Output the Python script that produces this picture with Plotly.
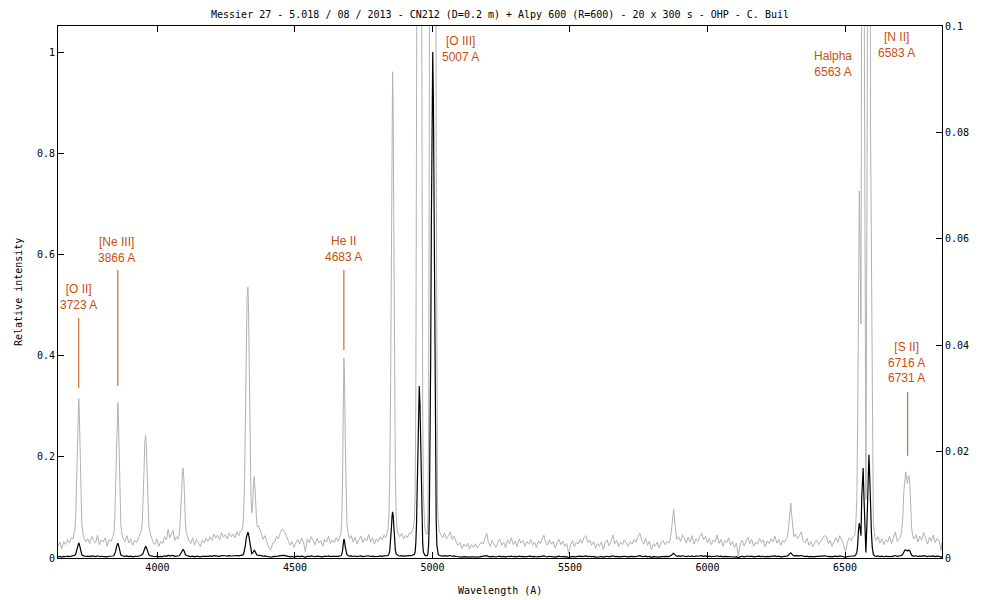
import plotly.graph_objects as go

# ---------------- data: wavelength (A) and relative intensity ----------------
wl_c1 = [3638, 3645, 3652, 3659, 3666, 3673, 3680, 3687, 3693, 3697]
fx_c1 = [0.0022, 0.0030, 0.0017, 0.0031, 0.0025, 0.0035, 0.0028, 0.0038, 0.0036, 0.0045]

wl_oii = [3700, 3703, 3706, 3709, 3712, 3714, 3716, 3719, 3722, 3725, 3729, 3733]
fx_oii = [0.0055, 0.0080, 0.0140, 0.0230, 0.0290, 0.0300, 0.0275, 0.0190, 0.0110, 0.0065, 0.0046, 0.0038]

wl_c2 = [3740, 3747, 3754, 3761, 3768, 3775, 3782, 3789, 3796, 3803, 3810, 3817, 3824, 3831, 3838]
fx_c2 = [0.0030, 0.0036, 0.0027, 0.0041, 0.0033, 0.0028, 0.0043, 0.0025, 0.0034, 0.0030, 0.0038, 0.0022, 0.0035, 0.0031, 0.0040]

wl_neiii = [3842, 3845, 3848, 3851, 3854, 3856, 3858, 3861, 3864, 3867, 3871, 3875]
fx_neiii = [0.0048, 0.0075, 0.0130, 0.0220, 0.0285, 0.0292, 0.0270, 0.0190, 0.0105, 0.0062, 0.0045, 0.0036]

wl_c3 = [3882, 3889, 3896, 3903, 3910, 3917, 3924, 3931, 3937]
fx_c3 = [0.0031, 0.0042, 0.0028, 0.0036, 0.0024, 0.0033, 0.0029, 0.0037, 0.0045]

wl_heps = [3942, 3945, 3948, 3951, 3954, 3957, 3960, 3963, 3966, 3969, 3973, 3977]
fx_heps = [0.0052, 0.0068, 0.0100, 0.0160, 0.0215, 0.0231, 0.0205, 0.0140, 0.0085, 0.0060, 0.0048, 0.0041]

wl_c4 = [3984, 3991, 3998, 4005, 4012, 4019, 4026, 4033, 4039, 4045, 4051, 4057, 4063, 4069, 4075]
fx_c4 = [0.0030, 0.0025, 0.0036, 0.0022, 0.0031, 0.0027, 0.0040, 0.0034, 0.0054, 0.0038, 0.0046, 0.0052, 0.0033, 0.0040, 0.0035]

wl_hdelta = [4079, 4082, 4085, 4088, 4091, 4093, 4096, 4099, 4102, 4105, 4109]
fx_hdelta = [0.0045, 0.0060, 0.0085, 0.0125, 0.0160, 0.0169, 0.0150, 0.0100, 0.0065, 0.0048, 0.0040]

wl_c5 = [4114, 4121, 4128, 4135, 4142, 4149, 4156, 4163, 4170, 4177,
         4184, 4191, 4198, 4205, 4212, 4219, 4226, 4233, 4240, 4247,
         4254, 4261, 4268, 4275, 4282, 4289, 4296, 4302, 4307]
fx_c5 = [0.0033, 0.0027, 0.0038, 0.0024, 0.0035, 0.0029, 0.0021, 0.0034, 0.0028, 0.0037,
         0.0031, 0.0040, 0.0033, 0.0045, 0.0037, 0.0043, 0.0034, 0.0048, 0.0039, 0.0044,
         0.0036, 0.0047, 0.0040, 0.0045, 0.0038, 0.0049, 0.0042, 0.0050, 0.0052]

wl_hgamma = [4311, 4314, 4317, 4320, 4323, 4326, 4329, 4331, 4334, 4337,
             4340, 4343, 4346, 4349, 4352, 4355, 4358, 4361, 4365, 4369, 4373]
fx_hgamma = [0.0062, 0.0090, 0.0150, 0.0260, 0.0400, 0.0490, 0.0509, 0.0480, 0.0360, 0.0220,
             0.0120, 0.0085, 0.0095, 0.0135, 0.0153, 0.0130, 0.0090, 0.0065, 0.0058, 0.0060, 0.0052]

wl_c6 = [4377, 4384, 4391, 4398, 4405, 4412, 4419, 4426, 4433, 4440,
         4447, 4454, 4461, 4468, 4475, 4482, 4489, 4496, 4503, 4510,
         4517, 4524, 4531, 4538, 4545, 4552, 4559, 4566, 4573, 4580,
         4587, 4594, 4601, 4608, 4615, 4622, 4629, 4636, 4643, 4650,
         4657, 4663]
fx_c6 = [0.0048, 0.0035, 0.0042, 0.0030, 0.0020, 0.0015, 0.0028, 0.0029, 0.0041, 0.0036,
         0.0048, 0.0055, 0.0050, 0.0043, 0.0033, 0.0024, 0.0031, 0.0020, 0.0028, 0.0035,
         0.0026, 0.0038, 0.0030, 0.0012, 0.0036, 0.0029, 0.0040, 0.0031, 0.0025, 0.0037,
         0.0028, 0.0033, 0.0022, 0.0035, 0.0030, 0.0041, 0.0027, 0.0034, 0.0029, 0.0038,
         0.0031, 0.0040]

wl_heii = [4667, 4670, 4673, 4676, 4678, 4680, 4683, 4686, 4689, 4693]
fx_heii = [0.0045, 0.0070, 0.0140, 0.0290, 0.0376, 0.0350, 0.0220, 0.0110, 0.0065, 0.0048]

wl_c7 = [4698, 4705, 4712, 4719, 4726, 4733, 4740, 4747, 4754, 4761,
         4768, 4775, 4782, 4789, 4796, 4803, 4810, 4817, 4824, 4830, 4835]
fx_c7 = [0.0036, 0.0042, 0.0030, 0.0039, 0.0027, 0.0035, 0.0041, 0.0029, 0.0037, 0.0032,
         0.0044, 0.0030, 0.0038, 0.0026, 0.0036, 0.0031, 0.0040, 0.0034, 0.0043, 0.0038, 0.0046]

wl_hbeta = [4839, 4842, 4845, 4848, 4851, 4853, 4855, 4857, 4859, 4862, 4865, 4868, 4872, 4876]
fx_hbeta = [0.0055, 0.0085, 0.0160, 0.0330, 0.0610, 0.0820, 0.0914, 0.0850, 0.0650, 0.0360, 0.0160, 0.0080, 0.0052, 0.0045]

wl_c8 = [4881, 4888, 4895, 4902, 4909, 4916, 4922, 4927, 4931]
fx_c8 = [0.0040, 0.0046, 0.0036, 0.0043, 0.0038, 0.0048, 0.0045, 0.0052, 0.0058]

wl_oiii4959 = [4934.5, 4937, 4939.5, 4942, 4944.5, 4947, 4949.5, 4952, 4954.5,
               4957, 4959.5, 4962, 4964.5, 4967, 4969.5, 4972, 4975, 4978]
fx_oiii4959 = [0.0075, 0.012, 0.029, 0.066, 0.134, 0.225, 0.307, 0.340, 0.307,
               0.225, 0.134, 0.066, 0.029, 0.012, 0.0075, 0.0058, 0.0048, 0.0044]

wl_oiii5007 = [4981, 4983.5, 4986, 4988.5, 4991, 4993.5, 4996, 4998.5, 5001,
               5003.5, 5006, 5008.5, 5011, 5013.5, 5016, 5018.5, 5021, 5025]
fx_oiii5007 = [0.0045, 0.008, 0.026, 0.078, 0.19, 0.39, 0.66, 0.90, 1.0,
               0.90, 0.66, 0.39, 0.19, 0.078, 0.026, 0.010, 0.0068, 0.0050]

wl_c9 = [5030, 5037, 5044, 5051, 5058, 5065, 5072, 5079, 5086, 5093,
         5100, 5107, 5114, 5121, 5128, 5135, 5142, 5149, 5156, 5163,
         5170, 5177, 5184, 5191, 5197, 5203, 5210, 5217, 5224, 5231,
         5238, 5245, 5252, 5259, 5266, 5273, 5280, 5287, 5294, 5301,
         5308, 5315, 5322, 5329, 5336, 5343, 5350, 5357, 5364, 5371,
         5378, 5385, 5392, 5399, 5405, 5411, 5418, 5425, 5432, 5439,
         5446, 5453, 5460, 5467, 5474, 5481, 5488, 5495, 5502, 5509,
         5516, 5523, 5530, 5537, 5544, 5551, 5558, 5565, 5572, 5579,
         5586, 5593, 5600, 5607, 5614, 5621, 5628, 5635, 5642, 5649,
         5656, 5663, 5670, 5677, 5684, 5691, 5698, 5705, 5712, 5719,
         5726, 5733, 5740, 5747, 5754, 5761, 5768, 5775, 5782, 5789,
         5796, 5803, 5810, 5817, 5824, 5831, 5838, 5845, 5852, 5859]
fx_c9 = [0.0045, 0.0038, 0.0047, 0.0036, 0.0042, 0.0049, 0.0035, 0.0041, 0.0030, 0.0024,
         0.0029, 0.0018, 0.0026, 0.0021, 0.0028, 0.0017, 0.0025, 0.0020, 0.0027, 0.0019,
         0.0024, 0.0030, 0.0026, 0.0036, 0.0047, 0.0031, 0.0022, 0.0033, 0.0027, 0.0020,
         0.0029, 0.0035, 0.0024, 0.0030, 0.0019, 0.0034, 0.0027, 0.0038, 0.0025, 0.0032,
         0.0021, 0.0036, 0.0028, 0.0033, 0.0022, 0.0031, 0.0026, 0.0035, 0.0024, 0.0030,
         0.0020, 0.0032, 0.0027, 0.0036, 0.0043, 0.0030, 0.0024, 0.0034, 0.0026, 0.0031,
         0.0019, 0.0028, 0.0035, 0.0025, 0.0032, 0.0022, 0.0027, 0.0009, 0.0025, 0.0033,
         0.0021, 0.0030, 0.0026, 0.0035, 0.0028, 0.0038, 0.0042, 0.0029, 0.0034, 0.0024,
         0.0031, 0.0018, 0.0027, 0.0022, 0.0030, 0.0016, 0.0028, 0.0034, 0.0023, 0.0031,
         0.0043, 0.0027, 0.0033, 0.0021, 0.0030, 0.0025, 0.0034, 0.0028, 0.0022, 0.0031,
         0.0026, 0.0035, 0.0029, 0.0040, 0.0047, 0.0033, 0.0026, 0.0037, 0.0024, 0.0032,
         0.0015, 0.0027, 0.0022, 0.0030, 0.0019, 0.0028, 0.0033, 0.0025, 0.0031, 0.0028]

wl_hei = [5865, 5869, 5873, 5877, 5880, 5884, 5888]
fx_hei = [0.0036, 0.0052, 0.0080, 0.0092, 0.0072, 0.0046, 0.0035]

wl_c10 = [5895, 5902, 5909, 5916, 5923, 5930, 5937, 5944, 5951, 5958,
          5965, 5972, 5979, 5986, 5993, 6000, 6007, 6014, 6021, 6028,
          6035, 6042, 6049, 6056, 6063, 6070, 6077, 6084, 6091, 6098,
          6105, 6112, 6119, 6126, 6133, 6140, 6147, 6154, 6161, 6168,
          6175, 6182, 6189, 6196, 6203, 6210, 6217, 6224, 6231, 6238,
          6245, 6252, 6259, 6266, 6273, 6280, 6286]
fx_c10 = [0.0040, 0.0031, 0.0044, 0.0035, 0.0028, 0.0039, 0.0030, 0.0042, 0.0026, 0.0036,
          0.0031, 0.0040, 0.0047, 0.0034, 0.0041, 0.0028, 0.0037, 0.0025, 0.0034, 0.0030,
          0.0043, 0.0027, 0.0035, 0.0022, 0.0033, 0.0029, 0.0038, 0.0024, 0.0031, 0.0020,
          0.0028, 0.0004, 0.0026, 0.0034, 0.0023, 0.0031, 0.0039, 0.0027, 0.0035, 0.0022,
          0.0030, 0.0026, 0.0037, 0.0029, 0.0034, 0.0021, 0.0032, 0.0027, 0.0036, 0.0030,
          0.0041, 0.0028, 0.0035, 0.0024, 0.0033, 0.0029, 0.0036]

wl_oi = [6291, 6295, 6299, 6303, 6306, 6310, 6314]
fx_oi = [0.0040, 0.0058, 0.0088, 0.0103, 0.0082, 0.0052, 0.0040]

wl_c11 = [6320, 6327, 6334, 6341, 6348, 6355, 6362, 6369, 6376, 6383,
          6390, 6397, 6404, 6411, 6418, 6425, 6432, 6439, 6446, 6453,
          6460, 6467, 6474, 6481, 6488, 6495, 6502, 6509, 6516, 6523,
          6530, 6535]
fx_c11 = [0.0045, 0.0036, 0.0042, 0.0049, 0.0033, 0.0028, 0.0037, 0.0024, 0.0031, 0.0021,
          0.0029, 0.0034, 0.0025, 0.0030, 0.0036, 0.0042, 0.0040, 0.0027, 0.0033, 0.0022,
          0.0031, 0.0038, 0.0029, 0.0042, 0.0034, 0.0025, 0.0011, 0.0030, 0.0038, 0.0033,
          0.0040, 0.0042]

wl_halpha = [6539, 6543, 6546, 6549, 6552, 6555, 6558, 6561, 6564, 6566,
             6569, 6572, 6576, 6580, 6584, 6587, 6590, 6593, 6596, 6599,
             6603, 6608]
fx_halpha = [0.0060, 0.0110, 0.0250, 0.0550, 0.0690, 0.0580, 0.0440, 0.1200, 0.1750, 0.1780,
             0.1200, 0.0500, 0.0110, 0.0700, 0.1800, 0.2040, 0.1600, 0.0800, 0.0510, 0.0220,
             0.0070, 0.0040]

wl_c12 = [6613, 6620, 6627, 6634, 6641, 6648, 6655, 6662, 6669, 6676, 6683, 6690, 6697]
fx_c12 = [0.0033, 0.0040, 0.0028, 0.0036, 0.0025, 0.0034, 0.0030, 0.0041, 0.0027, 0.0038, 0.0049, 0.0031, 0.0036]

wl_sii = [6702, 6706, 6710, 6714, 6718, 6721, 6724, 6727, 6730, 6733, 6736, 6739, 6742, 6746]
fx_sii = [0.0040, 0.0050, 0.0075, 0.0125, 0.0158, 0.0162, 0.0150, 0.0140, 0.0152, 0.0155, 0.0138, 0.0095, 0.0058, 0.0042]

wl_c13 = [6751, 6758, 6765, 6772, 6779, 6786, 6793, 6800, 6807, 6814, 6821, 6828, 6835, 6842, 6849, 6853]
fx_c13 = [0.0036, 0.0044, 0.0030, 0.0041, 0.0033, 0.0048, 0.0035, 0.0026, 0.0039, 0.0031, 0.0043, 0.0029, 0.0037, 0.0033, 0.0014, 0.0030]

segments = [
    (wl_c1, fx_c1), (wl_oii, fx_oii), (wl_c2, fx_c2), (wl_neiii, fx_neiii), (wl_c3, fx_c3),
    (wl_heps, fx_heps), (wl_c4, fx_c4), (wl_hdelta, fx_hdelta), (wl_c5, fx_c5),
    (wl_hgamma, fx_hgamma), (wl_c6, fx_c6), (wl_heii, fx_heii), (wl_c7, fx_c7),
    (wl_hbeta, fx_hbeta), (wl_c8, fx_c8), (wl_oiii4959, fx_oiii4959), (wl_oiii5007, fx_oiii5007),
    (wl_c9, fx_c9), (wl_hei, fx_hei), (wl_c10, fx_c10), (wl_oi, fx_oi), (wl_c11, fx_c11),
    (wl_halpha, fx_halpha), (wl_c12, fx_c12), (wl_sii, fx_sii), (wl_c13, fx_c13),
]
wavelength, intensity = [], []
for w, f in segments:
    if len(w) != len(f):
        raise ValueError(f"length mismatch at segment starting {w[0]}: {len(w)} vs {len(f)}")
    wavelength += w
    intensity += f

# line labels: (text, wavelength of label centre, label centre on left axis)
label_texts = ["[O II]<br>3723 A", "[Ne III]<br>3866 A", "He II<br>4683 A", "[O III]<br>5007 A",
               "Halpha<br>6563 A", "[N II]<br>6583 A", "[S II]<br>6716 A<br>6731 A"]
label_x = [3714, 3853, 4678, 5102, 6455, 6688, 6724]
label_y = [0.515, 0.608, 0.610, 1.005, 0.977, 1.013, 0.386]
# marker ticks: (wavelength, bottom, top) on left axis
tick_x = [3714, 3856, 4678, 6728]
tick_y0 = [0.336, 0.340, 0.411, 0.202]
tick_y1 = [0.474, 0.569, 0.569, 0.328]

TITLE = "Messier 27 - 5.018 / 08 / 2013 - CN212 (D=0.2 m) + Alpy 600 (R=600) - 20 x 300 s - OHP - C. Buil"
left_ticks = [0, 0.2, 0.4, 0.6, 0.8, 1]
left_ticktext = ["0", "0.2", "0.4", "0.6", "0.8", "1"]
right_ticks = [0, 0.02, 0.04, 0.06, 0.08, 0.1]
right_ticktext = ["0", "0.02", "0.04", "0.06", "0.08", "0.1"]
x_ticks = [4000, 4500, 5000, 5500, 6000, 6500]

# ---------------- figure ----------------
mono = dict(family="DejaVu Sans Mono", size=10, color="black")
orange = "#c84f0c"

fig = go.Figure()
fig.add_trace(go.Scatter(x=wavelength, y=intensity, mode="lines", yaxis="y",
                         line=dict(color="#b2b2b2", width=1), showlegend=False, hoverinfo="skip"))
fig.add_trace(go.Scatter(x=wavelength, y=intensity, mode="lines", yaxis="y2",
                         line=dict(color="black", width=1.2), showlegend=False, hoverinfo="skip"))

for xv, y0, y1 in zip(tick_x, tick_y0, tick_y1):
    fig.add_shape(type="line", xref="x", yref="y2", x0=xv, x1=xv, y0=y0, y1=y1,
                  line=dict(color=orange, width=1))

for t, xv, yv in zip(label_texts, label_x, label_y):
    fig.add_annotation(text=t, x=xv, y=yv, xref="x", yref="y2", showarrow=False,
                       xanchor="center", yanchor="middle",
                       font=dict(family="Liberation Sans", size=12, color=orange))

fig.add_annotation(text="Relative intensity", xref="paper", yref="paper",
                   x=(18 - 58) / 884, y=0.5, textangle=-90, showarrow=False,
                   xanchor="center", yanchor="middle", font=mono)
fig.add_annotation(text="Wavelength (A)", xref="paper", yref="paper",
                   x=0.5, y=(558 - 590) / 532, showarrow=False,
                   xanchor="center", yanchor="middle", font=mono)

axis_common = dict(ticks="inside", ticklen=6, tickwidth=1, tickcolor="black",
                   showline=True, linecolor="black", linewidth=1,
                   showgrid=False, zeroline=False, tickfont=mono)

fig.update_layout(
    width=1000, height=600,
    margin=dict(l=58, r=58, t=26, b=42),
    paper_bgcolor="white", plot_bgcolor="white",
    showlegend=False, hovermode=False,
    title=dict(text=TITLE, x=0.5, xanchor="center", xref="paper",
               y=1 - 14 / 600, yanchor="middle", yref="container", font=mono),
    xaxis=dict(range=[3638.5, 6852.7], tickvals=x_ticks, mirror="ticks", **axis_common),
    yaxis=dict(side="right", range=[0, 0.1], tickvals=right_ticks, ticktext=right_ticktext,
               **axis_common),
    yaxis2=dict(side="left", overlaying="y", range=[0, 1.0514], tickvals=left_ticks,
                ticktext=left_ticktext, **axis_common),
)

fig.write_html("out.html", config={"displayModeBar": False},
               post_script="document.body.style.margin='0';document.body.style.overflow='hidden';")
